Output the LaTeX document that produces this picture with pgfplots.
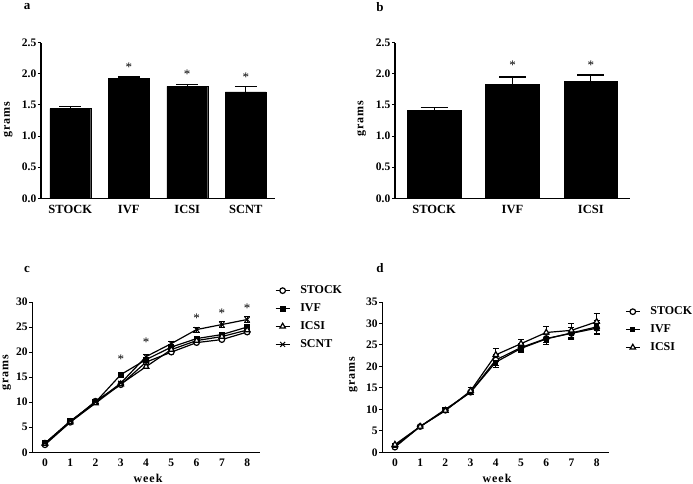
\documentclass[border=0pt]{standalone}
\usepackage{fontspec}
\setmainfont{Liberation Serif}
\usepackage{pgfplots}
\pgfplotsset{compat=1.18}

\tikzset{ast/.style={font=\fontsize{13}{14}\selectfont}}
\pgfplotsset{
 common/.style={
  scale only axis,
  axis lines=left,
  axis line style={line width=1.5pt, -},
  anchor=south west,
  /pgf/number format/assume math mode=true,
  tick label style={font=\bfseries\fontsize{11.5}{13}\selectfont},
  yticklabel style={inner xsep=1.5pt},
  ytick style={line width=1pt, black},
  major tick length=3pt,
  tick align=outside,
  x tick style={draw=none},
  clip=false,
 },
 barax/.style={
  common,
  width=234pt, height=155.6pt,
  ymin=0, ymax=2.5, ytick={0,0.5,...,2.5},
  yticklabel style={/pgf/number format/.cd, fixed, fixed zerofill, precision=1},
  xticklabel style={font=\bfseries\fontsize{12.5}{14}\selectfont},
 },
 lineax/.style={
  common,
  width=227.5pt, height=150.3pt,
  xmin=-0.5, xmax=8.5, xtick={0,...,8}, ymin=0,
  legend cell align=left,
  legend image code/.code={\draw[mark repeat=2,mark phase=2] plot coordinates {(0pt,0pt) (7pt,0pt) (14pt,0pt)};},
  legend style={draw=none, fill=none, font=\bfseries\fontsize{12}{13}\selectfont, row sep=4.5pt,
    /tikz/every odd column/.append style={column sep=8pt}},
 },
 ln/.style={black, line width=1.2pt, mark size=2.8pt, mark options={solid, line width=1pt}},
}

\begin{document}
\begin{tikzpicture}
\path[use as bounding box] (0pt,0pt) rectangle (693pt,-484pt);

% ---------- panel a ----------
\begin{axis}[barax, at={(41pt,-198.3pt)}, xmin=-0.5, xmax=3.5,
  xtick={0,1,2,3}, xticklabels={STOCK,IVF,ICSI,SCNT}]
\addplot[ybar, bar width=0.7, fill=black, draw=black,
  error bars/.cd, y dir=plus, y explicit,
  error bar style={line width=1.3pt, black},
  error mark options={rotate=90, mark size=11pt, line width=1.3pt}]
  coordinates {(0,1.44) +- (0,0.03) (1,1.93) +- (0,0.02) (2,1.80) +- (0,0.03) (3,1.71) +- (0,0.09)};
\node[ast] at (axis cs:1,2.10) {*};
\node[ast] at (axis cs:2,1.99) {*};
\node[ast] at (axis cs:3,1.94) {*};
\end{axis}

% ---------- panel b ----------
\begin{axis}[barax, at={(395pt,-198.3pt)}, width=235pt, xmin=-0.5, xmax=2.5,
  xtick={0,1,2}, xticklabels={STOCK,IVF,ICSI}]
\addplot[ybar, bar width=0.685, fill=black, draw=black,
  error bars/.cd, y dir=plus, y explicit,
  error bar style={line width=1.3pt, black},
  error mark options={rotate=90, mark size=13.5pt, line width=1.3pt}]
  coordinates {(0,1.41) +- (0,0.05) (1,1.83) +- (0,0.12) (2,1.88) +- (0,0.10)};
\node[ast] at (axis cs:1,2.14) {*};
\node[ast] at (axis cs:2,2.14) {*};
\end{axis}

% ---------- panel c ----------
\begin{axis}[lineax, at={(32.3pt,-452.3pt)}, ymax=30, ytick={0,5,...,30},
  legend style={at={(1.053,1.135)}, anchor=north west}]
\addplot[ln, mark=*, mark options={fill=white}] coordinates
  {(0,1.5) (1,6.0) (2,10.2) (3,13.5) (4,18.0) (5,20.0) (6,21.9) (7,22.5) (8,24.0)};
\addlegendentry{STOCK}
\addplot[ln, mark=square*, mark options={fill=black}, mark size=2.4pt] coordinates
  {(0,1.8) (1,6.2) (2,10.0) (3,15.5) (4,18.5) (5,21.0) (6,22.7) (7,23.5) (8,25.0)};
\addlegendentry{IVF}
\addplot[ln, mark=triangle*, mark options={fill=white}, mark size=3.2pt] coordinates
  {(0,1.7) (1,6.0) (2,9.8) (3,13.6) (4,17.1) (5,20.5) (6,22.3) (7,23.1) (8,24.4)};
\addlegendentry{ICSI}
\addplot[ln, mark=x, mark size=3.4pt,
  error bars/.cd, y dir=both, y explicit,
  error bar style={line width=1pt, black},
  error mark options={rotate=90, mark size=3.2pt, line width=1pt}] coordinates
  {(0,1.8) +- (0,0.2) (1,6.2) +- (0,0.2) (2,10.0) +- (0,0.3) (3,13.8) +- (0,0.4) (4,19.1) +- (0,0.5) (5,21.7) +- (0,0.5) (6,24.5) +- (0,0.5) (7,25.5) +- (0,0.6) (8,26.5) +- (0,0.6)};
\addlegendentry{SCNT}
\node[ast] at (axis cs:3,18.6) {*};
\node[ast] at (axis cs:4,22.0) {*};
\node[ast] at (axis cs:6,26.8) {*};
\node[ast] at (axis cs:7,27.7) {*};
\node[ast] at (axis cs:8,28.7) {*};
\end{axis}

% ---------- panel d ----------
\begin{axis}[lineax, at={(382.3pt,-452.3pt)}, width=227pt, ymax=35, ytick={0,5,...,35},
  legend style={at={(1.056,0.995)}, anchor=north west}]
\addplot[ln, mark=*, mark options={fill=white},
  error bars/.cd, y dir=both, y explicit,
  error bar style={line width=0.8pt, black},
  error mark options={rotate=90, mark size=3pt, line width=0.8pt}] coordinates
  {(0,1.2) +- (0,0.2) (1,6.0) +- (0,0.3) (2,9.8) +- (0,0.5) (3,14.0) +- (0,0.5) (4,21.5) +- (0,1.3) (5,24.4) +- (0,0.9) (6,26.5) +- (0,1.0) (7,27.7) +- (0,1.3) (8,28.9) +- (0,1.4)};
\addlegendentry{STOCK}
\addplot[ln, mark=square*, mark options={fill=black}, mark size=2pt,
  error bars/.cd, y dir=both, y explicit,
  error bar style={line width=0.8pt, black},
  error mark options={rotate=90, mark size=3pt, line width=0.8pt}] coordinates
  {(0,1.5) +- (0,0.2) (1,6.0) +- (0,0.3) (2,10.0) +- (0,0.5) (3,14.0) +- (0,0.5) (4,21.0) +- (0,1.3) (5,24.2) +- (0,0.9) (6,26.4) +- (0,1.2) (7,27.8) +- (0,1.3) (8,29.2) +- (0,1.5)};
\addlegendentry{IVF}
\addplot[ln, mark=triangle*, mark options={fill=white}, mark size=3.2pt,
  error bars/.cd, y dir=both, y explicit,
  error bar style={line width=0.8pt, black},
  error mark options={rotate=90, mark size=3pt, line width=0.8pt}] coordinates
  {(0,1.8) +- (0,0.2) (1,6.0) +- (0,0.3) (2,9.7) +- (0,0.5) (3,14.3) +- (0,0.7) (4,22.7) +- (0,1.5) (5,25.3) +- (0,1.1) (6,27.9) +- (0,1.5) (7,28.4) +- (0,1.6) (8,30.4) +- (0,2.0)};
\addlegendentry{ICSI}
\end{axis}

% ---------- labels ----------
\begin{scope}[every node/.style={font=\bfseries\fontsize{13}{15}\selectfont}]
\node at (27pt,-7pt) {a};
\node at (380pt,-7pt) {b};
\node at (27pt,-269pt) {c};
\node at (380pt,-268pt) {d};
\end{scope}
\begin{scope}[every node/.style={font=\bfseries\fontsize{12}{13}\addfontfeature{LetterSpace=8}\selectfont}]
\node[rotate=90] at (8pt,-120pt) {grams};
\node[rotate=90] at (361.7pt,-119pt) {grams};
\node[rotate=90] at (6.5pt,-373pt) {grams};
\node[rotate=90] at (353pt,-375pt) {grams};
\node at (148pt,-478pt) {week};
\node at (497pt,-478pt) {week};
\end{scope}
\end{tikzpicture}
\end{document}
